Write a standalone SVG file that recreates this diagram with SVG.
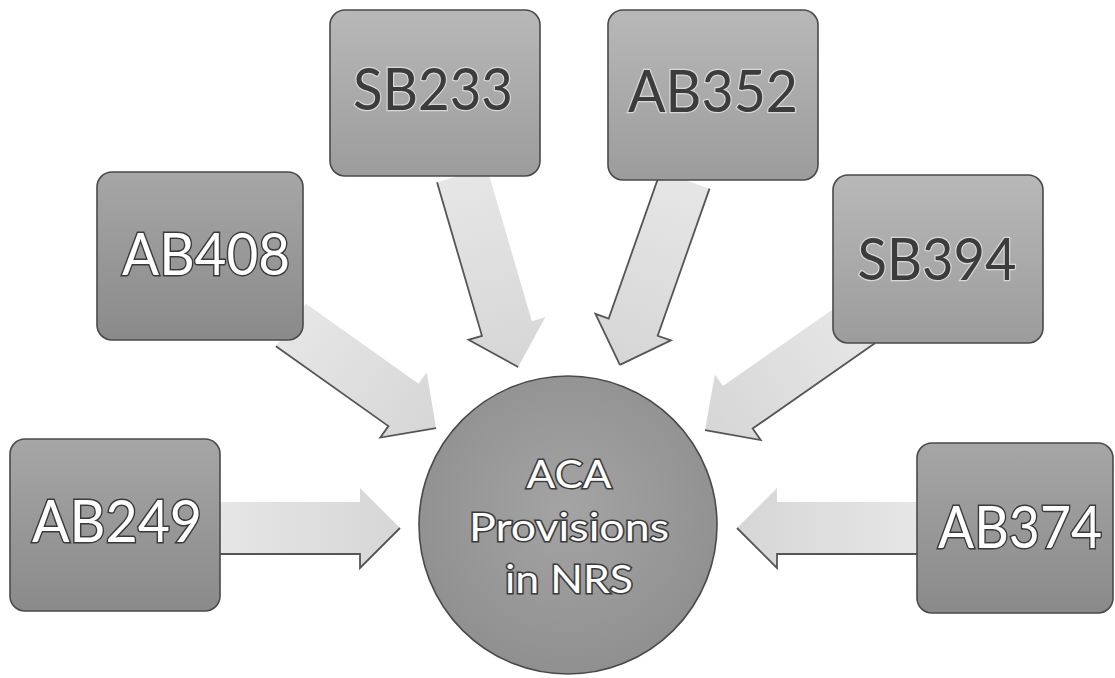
<svg xmlns="http://www.w3.org/2000/svg" width="1115" height="678" viewBox="0 0 1115 678">
  <defs>
    <linearGradient id="gDark" x1="0" y1="0" x2="0" y2="1">
      <stop offset="0" stop-color="#a6a6a6"/>
      <stop offset="1" stop-color="#8a8a8a"/>
    </linearGradient>
    <linearGradient id="gLight" x1="0" y1="0" x2="0" y2="1">
      <stop offset="0" stop-color="#b8b8b8"/>
      <stop offset="1" stop-color="#9c9c9c"/>
    </linearGradient>
    <radialGradient id="gCircle" cx="0.5" cy="0.45" r="0.6">
      <stop offset="0" stop-color="#a4a4a4"/>
      <stop offset="1" stop-color="#8e8e8e"/>
    </radialGradient>
    <linearGradient id="gArrow" x1="0" y1="0" x2="1" y2="0">
      <stop offset="0" stop-color="#e6e6e6"/>
      <stop offset="1" stop-color="#d6d6d6"/>
    </linearGradient>
  </defs>
  <style>
    .box { stroke: #4a4a4a; stroke-width: 1.6; }
    .dark { fill: url(#gDark); }
    .light { fill: url(#gLight); }
    .arrow { fill: url(#gArrow); stroke: none; }
    .edge { fill: none; stroke: #555; stroke-width: 1.8; stroke-linejoin: miter; }
    .t { font-family: Lato, "Open Sans", "Liberation Sans", sans-serif; text-anchor: middle; paint-order: stroke; }
    .tw { fill: #ffffff; stroke: #3a3a3a; stroke-width: 3; }
    .td { fill: #3c3c3c; stroke: #d8d8d8; stroke-width: 2.5; }
    .big { font-size: 58px; }
    .mid { font-size: 39px; }
  </style>
  <rect width="1115" height="678" fill="#ffffff"/>

  <g id="connectors">
    <g transform="translate(220,528)">
      <polygon class="arrow" points="0,-26 140,-26 140,-40 180,0 140,40 140,26 0,26"/>
      <polyline class="edge" points="0,26 140,26 140,40 180,0"/>
    </g>
    <g transform="translate(917,528) rotate(180)">
      <polygon class="arrow" points="0,-26 140,-26 140,-40 180,0 140,40 140,26 0,26"/>
      <polyline class="edge" points="0,-26 140,-26 140,-40 180,0"/>
    </g>
    <g transform="translate(291,325) rotate(35.4)">
      <polygon class="arrow" points="0,-26 138,-26 138,-40 178,0 138,40 138,26 0,26"/>
      <polyline class="edge" points="0,26 138,26 138,40 178,0"/>
    </g>
    <g transform="translate(462,175) rotate(73.7)">
      <polygon class="arrow" points="0,-26 160,-26 160,-40 200,0 160,40 160,26 0,26"/>
      <polyline class="edge" points="0,26 160,26 160,40 200,0"/>
    </g>
    <g transform="translate(685,180) rotate(109.4)">
      <polygon class="arrow" points="0,-26 156,-26 156,-40 196,0 156,40 156,26 0,26"/>
      <polyline class="edge" points="0,-26 156,-26 156,-40 196,0"/>
      <polyline class="edge" points="0,26 156,26 156,40 196,0"/>
    </g>
    <g transform="translate(860,322) rotate(145.1)">
      <polygon class="arrow" points="0,-26 149,-26 149,-40 189,0 149,40 149,26 0,26"/>
      <polyline class="edge" points="0,-26 149,-26 149,-40 189,0"/>
    </g>
  </g>

  <g id="node-SB233">
    <rect class="box light" x="330" y="10" width="210" height="166" rx="15"/>
    <text class="t td big" x="433" y="110" textLength="160" lengthAdjust="spacingAndGlyphs">SB233</text>
  </g>
  <g id="node-AB352">
    <rect class="box light" x="608" y="10" width="210" height="170" rx="15"/>
    <text class="t td big" x="713" y="112" textLength="170" lengthAdjust="spacingAndGlyphs">AB352</text>
  </g>
  <g id="node-AB408">
    <rect class="box dark" x="97" y="172" width="206" height="168" rx="15"/>
    <text class="t tw big" x="206" y="275" textLength="168" lengthAdjust="spacingAndGlyphs">AB408</text>
  </g>
  <g id="node-SB394">
    <rect class="box light" x="833" y="175" width="210" height="168" rx="15"/>
    <text class="t td big" x="937" y="280" textLength="159" lengthAdjust="spacingAndGlyphs">SB394</text>
  </g>
  <g id="node-AB249">
    <rect class="box dark" x="10" y="439" width="210" height="172" rx="15"/>
    <text class="t tw big" x="117" y="542" textLength="170" lengthAdjust="spacingAndGlyphs">AB249</text>
  </g>
  <g id="node-AB374">
    <rect class="box dark" x="917" y="443" width="196" height="170" rx="15"/>
    <text class="t tw big" x="1020" y="548" textLength="164" lengthAdjust="spacingAndGlyphs">AB374</text>
  </g>
  <g id="node-center">
    <circle class="box" cx="568" cy="525" r="149" fill="url(#gCircle)"/>
    <text class="t tw mid" x="569" y="488" textLength="85" lengthAdjust="spacingAndGlyphs">ACA</text>
    <text class="t tw mid" x="569" y="541" textLength="200" lengthAdjust="spacingAndGlyphs">Provisions</text>
    <text class="t tw mid" x="569" y="593" textLength="128" lengthAdjust="spacingAndGlyphs">in NRS</text>
  </g>
</svg>
